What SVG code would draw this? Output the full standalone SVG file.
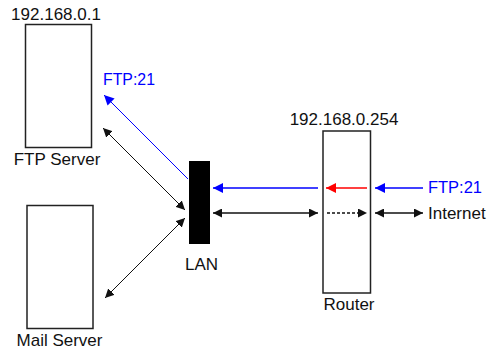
<svg xmlns="http://www.w3.org/2000/svg" width="490" height="349" viewBox="0 0 490 349">
<defs>
<style>
text{font-family:"Liberation Sans",Arial,sans-serif;font-size:17px;fill:#111}
.box{fill:#fff;stroke:#222;stroke-width:1.5}
.ln{fill:none;stroke:#111;stroke-width:1}
.blue{stroke:#0000ff}
.red{stroke:#ff0000;stroke-width:1.5}
.thick{stroke-width:1.5}
.dash{stroke-dasharray:3 2;stroke-width:1.5}
.bt{fill:#0000ff}
</style>
<marker id="ak" viewBox="0 0 10 10" refX="10" refY="5" markerWidth="9" markerHeight="9" markerUnits="userSpaceOnUse" orient="auto-start-reverse"><path d="M0,0L10,5L0,10z" fill="#111"/></marker>
<marker id="ab" viewBox="0 0 10 10" refX="10" refY="5" markerWidth="10" markerHeight="10" markerUnits="userSpaceOnUse" orient="auto-start-reverse"><path d="M0,0L10,5L0,10z" fill="#0000ff"/></marker>
<marker id="ar" viewBox="0 0 10 10" refX="10" refY="5" markerWidth="10" markerHeight="10" markerUnits="userSpaceOnUse" orient="auto-start-reverse"><path d="M0,0L10,5L0,10z" fill="#ff0000"/></marker>
</defs>
<rect width="490" height="349" fill="#fff"/>
<g id="ftp-server">
<rect class="box" x="25.5" y="24.5" width="66" height="123"/>
<text x="56" y="19.5" text-anchor="middle">192.168.0.1</text>
<text x="57" y="165" text-anchor="middle">FTP Server</text>
</g>
<g id="mail-server">
<rect class="box" x="27" y="205.5" width="66" height="123"/>
<text x="59.5" y="346" text-anchor="middle">Mail Server</text>
</g>
<g id="lan">
<rect x="189" y="161" width="21" height="83" fill="#000"/>
<text x="201.5" y="270" text-anchor="middle">LAN</text>
</g>
<g id="router">
<rect class="box" x="323" y="131" width="47.5" height="162"/>
<text x="344" y="124.5" text-anchor="middle">192.168.0.254</text>
<text x="349" y="310" text-anchor="middle">Router</text>
</g>
<g id="connectors">
<line class="ln blue" x1="188" y1="179" x2="104" y2="95" marker-end="url(#ab)"/>
<line class="ln" x1="103" y1="128" x2="185" y2="210" marker-start="url(#ak)" marker-end="url(#ak)"/>
<line class="ln" x1="185" y1="218" x2="105" y2="298" marker-start="url(#ak)" marker-end="url(#ak)"/>
<line class="ln blue thick" x1="318" y1="188" x2="213" y2="188" marker-end="url(#ab)"/>
<line class="ln thick" x1="213" y1="213" x2="318" y2="213" marker-start="url(#ak)" marker-end="url(#ak)"/>
<line class="ln red" x1="367" y1="188" x2="326" y2="188" marker-end="url(#ar)"/>
<line class="ln dash" x1="327" y1="213" x2="367" y2="213" marker-end="url(#ak)"/>
<line class="ln blue thick" x1="423" y1="188" x2="375" y2="188" marker-end="url(#ab)"/>
<line class="ln thick" x1="375" y1="213" x2="423" y2="213" marker-start="url(#ak)" marker-end="url(#ak)"/>
</g>
<g id="labels">
<text class="bt" x="103" y="85" textLength="52" lengthAdjust="spacingAndGlyphs">FTP:21</text>
<text class="bt" x="428" y="193" textLength="54" lengthAdjust="spacingAndGlyphs">FTP:21</text>
<text x="428" y="218.5">Internet</text>
</g>
</svg>
